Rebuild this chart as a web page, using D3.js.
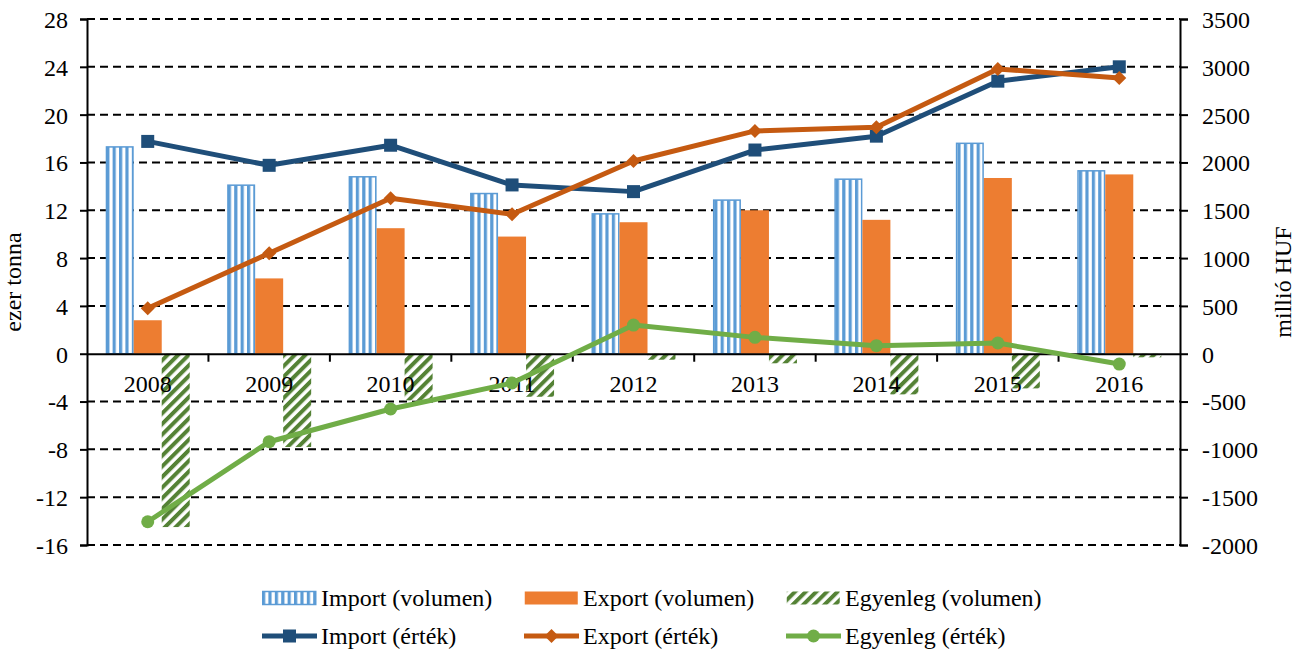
<!DOCTYPE html>
<html>
<head>
<meta charset="utf-8">
<script src="https://cdn.jsdelivr.net/npm/d3@7"></script>
<style>
  body { margin: 0; background: #fff; }
  svg text { font-family: "Liberation Serif", "Times New Roman", serif; font-size: 24px; fill: #000; }
</style>
</head>
<body>
<div id="chart"></div>
<script>
// data
var years = ["2008", "2009", "2010", "2011", "2012", "2013", "2014", "2015", "2016"];

// ezer tonna (left axis)
var importVol = [17.3, 14.1, 14.8, 13.4, 11.7, 12.85, 14.6, 17.6, 15.3];
var exportVol = [2.8, 6.3, 10.5, 9.8, 11.0, 12.0, 11.2, 14.7, 15.0];
var balanceVol = [-14.5, -7.8, -3.9, -3.6, -0.5, -0.8, -3.4, -2.9, -0.3];

// millió HUF (right axis)
var importVal = [2220, 1970, 2180, 1765, 1695, 2130, 2275, 2850, 3000];
var exportVal = [475, 1050, 1625, 1458, 2015, 2330, 2367, 2977, 2883];
var balanceVal = [-1757, -920, -578, -306, 300, 171, 84, 112, -108];

var leftTicks = [-16, -12, -8, -4, 0, 4, 8, 12, 16, 20, 24, 28];
var rightTicks = [-2000, -1500, -1000, -500, 0, 500, 1000, 1500, 2000, 2500, 3000, 3500];

var svgWidth = 1300;
var svgHeight = 652;
var margin = { top: 19, right: 120, bottom: 107, left: 87 };
var width = svgWidth - margin.left - margin.right;
var height = svgHeight - margin.top - margin.bottom;

var svg = d3.select("#chart")
  .append("svg")
  .attr("width", svgWidth)
  .attr("height", svgHeight);

// patterns for the volume bars
var defs = svg.append("defs");
var vStripe = defs.append("pattern")
  .attr("id", "vstripe")
  .attr("patternUnits", "userSpaceOnUse")
  .attr("width", 6.4)
  .attr("height", 10);
vStripe.append("rect").attr("width", 6.4).attr("height", 10).attr("fill", "#fff");
vStripe.append("rect").attr("width", 3.2).attr("height", 10).attr("fill", "#5B9BD5");

var hatch = defs.append("pattern")
  .attr("id", "hatch")
  .attr("patternUnits", "userSpaceOnUse")
  .attr("width", 7.5)
  .attr("height", 10)
  .attr("patternTransform", "rotate(45)");
hatch.append("rect").attr("width", 7.5).attr("height", 10).attr("fill", "#fff");
hatch.append("rect").attr("width", 4).attr("height", 10).attr("fill", "#548235");

var chartGroup = svg.append("g")
  .attr("transform", `translate(${margin.left}, ${margin.top})`);

// scales
var xScale = d3.scaleBand().domain(years).range([0, width]);
var barScale = d3.scaleBand()
  .domain(["imp", "exp", "bal"])
  .range([(xScale.bandwidth() - 84) / 2, (xScale.bandwidth() + 84) / 2]);
var yLeft = d3.scaleLinear().domain([-16, 28]).range([height, 0]);
var yRight = d3.scaleLinear().domain([-2000, 3500]).range([height, 0]);

// dashed gridlines
chartGroup.append("g")
  .selectAll("line")
  .data(leftTicks.filter(d => d !== 0))
  .enter()
  .append("line")
  .attr("x1", 0)
  .attr("x2", width)
  .attr("y1", d => yLeft(d))
  .attr("y2", d => yLeft(d))
  .attr("stroke", "#000")
  .attr("stroke-width", 2)
  .attr("stroke-dasharray", "8,5");

// bars
var series = [
  { key: "imp", values: importVol, fill: "url(#vstripe)", stroke: "#5B9BD5" },
  { key: "exp", values: exportVol, fill: "#ED7D31", stroke: "none" },
  { key: "bal", values: balanceVol, fill: "url(#hatch)", stroke: "none" }
];

series.forEach(function(s) {
  chartGroup.append("g")
    .selectAll("rect")
    .data(s.values)
    .enter()
    .append("rect")
    .attr("x", (d, i) => xScale(years[i]) + barScale(s.key) + (s.stroke === "none" ? 0 : 0.75))
    .attr("width", barScale.bandwidth() - (s.stroke === "none" ? 0 : 1.5))
    .attr("y", d => yLeft(Math.max(0, d)))
    .attr("height", d => Math.abs(yLeft(d) - yLeft(0)))
    .attr("fill", s.fill)
    .attr("stroke", s.stroke)
    .attr("stroke-width", 1.5);
});

// axes
var plainNum = d => String(d);
var leftAxis = d3.axisLeft(yLeft).tickValues(leftTicks).tickFormat(plainNum).tickSize(7).tickPadding(12);
var rightAxis = d3.axisRight(yRight).tickValues(rightTicks).tickFormat(plainNum).tickSize(8).tickPadding(14);

var gLeft = chartGroup.append("g").call(leftAxis);
var gRight = chartGroup.append("g").attr("transform", `translate(${width}, 0)`).call(rightAxis);

[gLeft, gRight].forEach(function(g) {
  g.attr("font-family", null).attr("font-size", null);
  g.select(".domain").attr("stroke", "#000").attr("stroke-width", 2);
  g.selectAll(".tick line").attr("stroke", "#000").attr("stroke-width", 2);
  g.selectAll(".tick text").attr("dy", "0.35em");
});

// category axis on zero line
var xAxis = d3.axisBottom(xScale).tickSize(0).tickPadding(0);
var gX = chartGroup.append("g")
  .attr("transform", `translate(0, ${yLeft(0)})`)
  .call(xAxis);
gX.attr("font-family", null).attr("font-size", null);
gX.select(".domain").attr("stroke", "#000").attr("stroke-width", 2);
gX.selectAll(".tick text")
  .attr("y", 38)
  .attr("dy", 0);

gX.selectAll(".cat-tick")
  .data(years.slice(1))
  .enter()
  .append("line")
  .attr("x1", d => xScale(d))
  .attr("x2", d => xScale(d))
  .attr("y1", 0)
  .attr("y2", 8)
  .attr("stroke", "#000")
  .attr("stroke-width", 2);

// value lines
var lineSeries = [
  { values: importVal, color: "#1F4E79", marker: "square" },
  { values: exportVal, color: "#C55A11", marker: "diamond" },
  { values: balanceVal, color: "#70AD47", marker: "circle" }
];

var cx = (d, i) => xScale(years[i]) + xScale.bandwidth() / 2;

function drawMarker(sel, type, color) {
  if (type === "square") {
    sel.append("rect")
      .attr("x", -6.5).attr("y", -6.5).attr("width", 13).attr("height", 13)
      .attr("fill", color);
  } else if (type === "diamond") {
    sel.append("path")
      .attr("d", "M0,-7L7,0L0,7L-7,0Z")
      .attr("fill", color);
  } else {
    sel.append("circle").attr("r", 6.5).attr("fill", color);
  }
}

lineSeries.forEach(function(s) {
  var line = d3.line()
    .x(cx)
    .y(d => yRight(d));

  chartGroup.append("path")
    .datum(s.values)
    .attr("d", line)
    .attr("fill", "none")
    .attr("stroke", s.color)
    .attr("stroke-width", 5)
    .attr("stroke-linejoin", "round");

  var markers = chartGroup.append("g")
    .selectAll("g")
    .data(s.values)
    .enter()
    .append("g")
    .attr("transform", (d, i) => `translate(${cx(d, i)}, ${yRight(d)})`);
  drawMarker(markers, s.marker, s.color);
});

// axis titles
svg.append("text")
  .attr("transform", `translate(21, ${margin.top + height / 2}) rotate(-90)`)
  .attr("text-anchor", "middle")
  .text("ezer tonna");

svg.append("text")
  .attr("transform", `translate(1291, ${margin.top + height / 2}) rotate(-90)`)
  .attr("text-anchor", "middle")
  .text("millió HUF");

// legend
var legendCols = [262, 524, 786];
var legendRow1 = [
  { label: "Import (volumen)", fill: "url(#vstripe)", stroke: "#5B9BD5" },
  { label: "Export (volumen)", fill: "#ED7D31", stroke: "none" },
  { label: "Egyenleg (volumen)", fill: "url(#hatch)", stroke: "none" }
];
var legendRow2 = [
  { label: "Import (érték)", color: "#1F4E79", marker: "square" },
  { label: "Export (érték)", color: "#C55A11", marker: "diamond" },
  { label: "Egyenleg (érték)", color: "#70AD47", marker: "circle" }
];

legendRow1.forEach(function(d, i) {
  var g = svg.append("g").attr("transform", `translate(${legendCols[i]}, 598)`);
  g.append("rect")
    .attr("x", 0.75).attr("y", -6.5).attr("width", 53).attr("height", 13)
    .attr("fill", d.fill)
    .attr("stroke", d.stroke)
    .attr("stroke-width", 1.5);
  g.append("text").attr("x", 59).attr("dy", "0.35em").text(d.label);
});

legendRow2.forEach(function(d, i) {
  var g = svg.append("g").attr("transform", `translate(${legendCols[i]}, 636)`);
  g.append("line")
    .attr("x1", 0).attr("x2", 55)
    .attr("stroke", d.color).attr("stroke-width", 5);
  var m = g.append("g").attr("transform", "translate(27.5, 0)");
  drawMarker(m, d.marker, d.color);
  g.append("text").attr("x", 59).attr("dy", "0.35em").text(d.label);
});
</script>
</body>
</html>
